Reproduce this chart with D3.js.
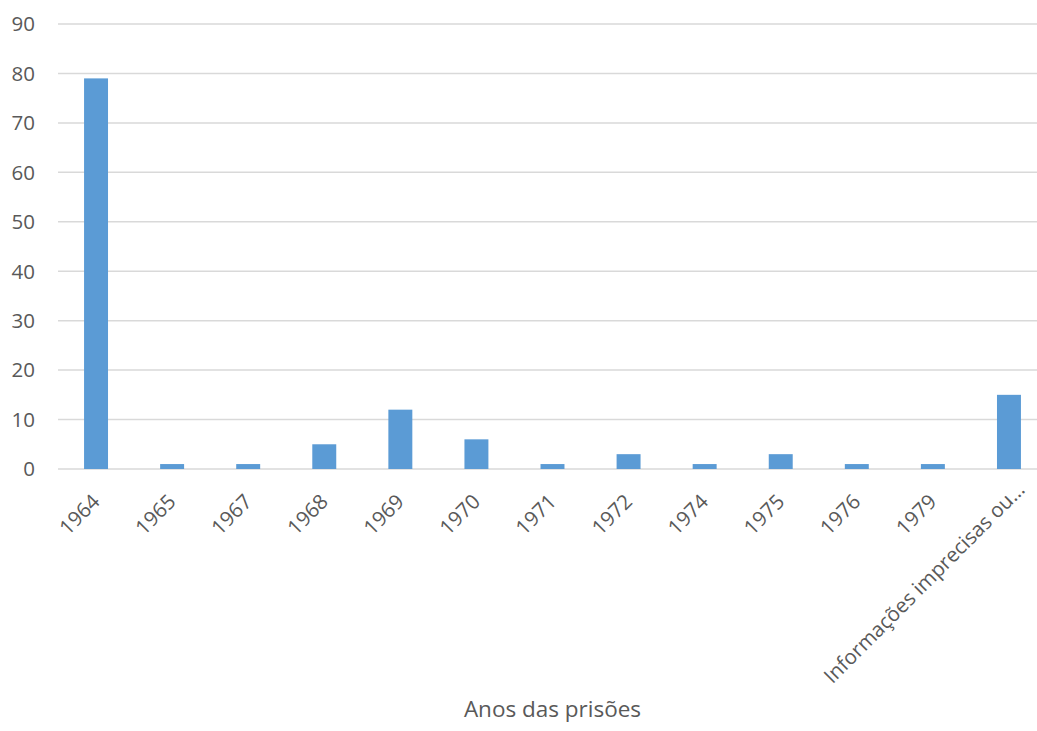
<!DOCTYPE html>
<html>
<head>
<meta charset="utf-8">
<script src="https://cdn.jsdelivr.net/npm/d3@7"></script>
<style>
  html, body { margin: 0; padding: 0; background: #fff; }
  svg { display: block; }
  text { font-family: "Open Sans", "Noto Sans", sans-serif; fill: #595959; }
</style>
</head>
<body>
<svg id="chart" width="1037" height="731"></svg>
<script>
// Arrests per year
const categories = ["1964", "1965", "1967", "1968", "1969", "1970", "1971", "1972", "1974", "1975", "1976", "1979", "Informações imprecisas ou…"];
const counts = [79, 1, 1, 5, 12, 6, 1, 3, 1, 3, 1, 1, 15];
const yTicks = [0, 10, 20, 30, 40, 50, 60, 70, 80, 90];
const axisTitle = "Anos das prisões";

const svg = d3.select("#chart");
const margin = { left: 58, right: 1047, top: 24, bottom: 469 };

const x = d3.scaleBand()
  .domain(categories)
  .range([margin.left, margin.right])
  .paddingInner(0.685)
  .paddingOuter(0.3425);

const y = d3.scaleLinear()
  .domain([0, 90])
  .range([margin.bottom, margin.top]);

// Horizontal gridlines
svg.append("g")
  .selectAll("line")
  .data(yTicks)
  .join("line")
  .attr("x1", margin.left)
  .attr("x2", margin.right)
  .attr("y1", d => y(d))
  .attr("y2", d => y(d))
  .attr("stroke", "#d9d9d9")
  .attr("stroke-width", 1.5);

// Y axis labels
svg.append("g")
  .selectAll("text")
  .data(yTicks)
  .join("text")
  .attr("x", 35)
  .attr("y", d => y(d))
  .attr("dy", "0.36em")
  .attr("text-anchor", "end")
  .style("font-size", "20.5px")
  .text(d => d);

// Bars
svg.append("g")
  .selectAll("rect")
  .data(categories)
  .join("rect")
  .attr("x", d => x(d))
  .attr("width", x.bandwidth())
  .attr("y", (d, i) => y(counts[i]))
  .attr("height", (d, i) => y(0) - y(counts[i]))
  .attr("fill", "#5b9bd5");

// Rotated category labels (the truncated one sits a little further along its line)
svg.append("g")
  .selectAll("text")
  .data(categories)
  .join("text")
  .attr("text-anchor", "end")
  .attr("transform", d => `translate(${x(d) + x.bandwidth() / 2 + 5},${503}) rotate(-45)`)
  .attr("dx", d => d.endsWith("…") ? 17 : 0)
  .style("font-size", "20.5px")
  .text(d => d);

// Axis title
svg.append("text")
  .attr("x", (margin.left + margin.right) / 2)
  .attr("y", 717)
  .attr("text-anchor", "middle")
  .style("font-size", "22.5px")
  .text(axisTitle);
</script>
</body>
</html>
